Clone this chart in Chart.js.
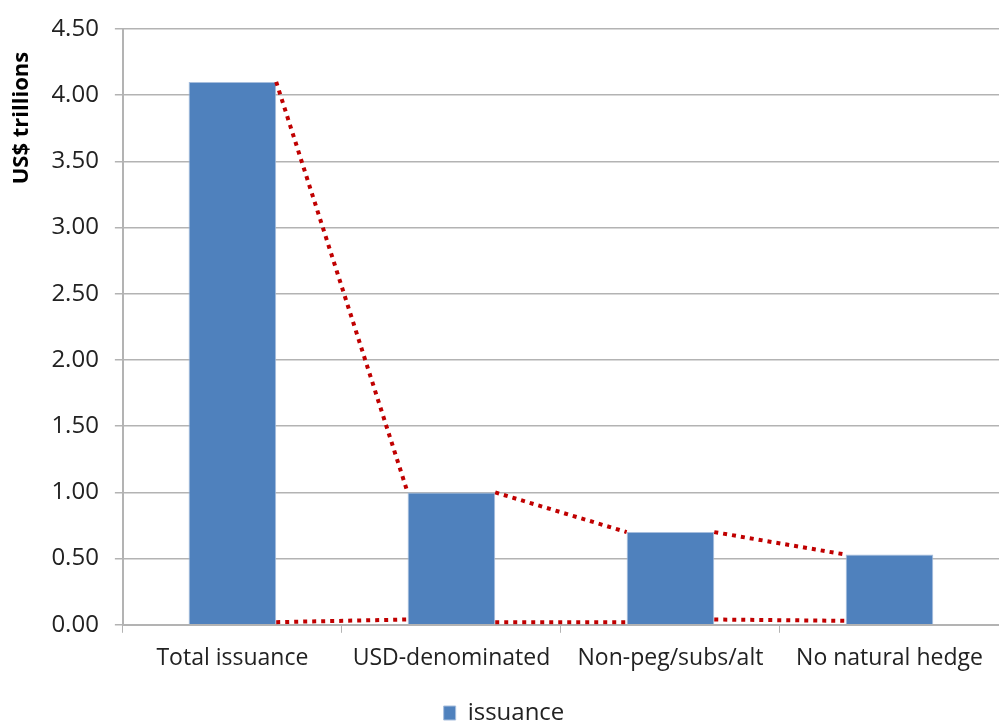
<!DOCTYPE html>
<html>
<head>
<meta charset="utf-8">
<script src="https://cdn.jsdelivr.net/npm/chart.js@4/dist/chart.umd.min.js"></script>
<style>
  body { margin: 0; background: #fff; overflow: hidden; }
  canvas { display: block; }
</style>
</head>
<body>
<!-- canvas a little taller than the window: the legend is cut at the bottom edge as in the original -->
<canvas id="myChart" width="999" height="735"></canvas>
<script>
const categories = ["Total issuance", "USD-denominated", "Non-peg/subs/alt", "No natural hedge"];
const issuance = [4.10, 1.00, 0.70, 0.53];
// connector lines between bars (x in category units, bar edges at +-0.2)
const topLinkX = [0.2, 0.8, null, 1.2, 1.8, null, 2.2, 2.8];
const topLinkY = [4.10, 1.00, null, 1.00, 0.70, null, 0.70, 0.53];
const baseLinkX = [0.2, 0.8, null, 1.2, 1.8, null, 2.2, 2.8];
const baseLinkY = [0.02, 0.04, null, 0.02, 0.02, null, 0.04, 0.03];
const yTicks = [0, 0.5, 1, 1.5, 2, 2.5, 3, 3.5, 4, 4.5];

const fontFamily = "'Open Sans', sans-serif";
const gridColor = "#b3b3b3";

function toPoints(xs, ys) {
    return xs.map((x, i) => x === null ? { x: NaN, y: null } : { x: x, y: ys[i] });
}

const linkStyle = {
    type: 'line',
    borderColor: '#C00000',
    borderWidth: 4,
    borderDash: [4, 5],
    borderCapStyle: 'butt',
    pointRadius: 0,
    fill: false,
    spanGaps: false,
    tension: 0
};

const ctx = document.getElementById('myChart').getContext('2d');
const myChart = new Chart(ctx, {
    type: 'bar',
    data: {
        datasets: [
            {
                type: 'bar',
                label: 'issuance',
                data: issuance.map((v, i) => ({ x: i, y: v })),
                backgroundColor: '#4F81BD',
                borderColor: '#A7BEDD',
                borderWidth: 1,
                grouped: false,
                barPercentage: 0.4,
                categoryPercentage: 1,
                order: 2
            },
            Object.assign({ label: 'top', data: toPoints(topLinkX, topLinkY), order: 1 }, linkStyle),
            Object.assign({ label: 'base', data: toPoints(baseLinkX, baseLinkY), order: 1 }, linkStyle)
        ]
    },
    options: {
        responsive: false,
        animation: false,
        layout: { padding: { top: 0, right: 0, left: 9, bottom: 0 } },
        plugins: {
            tooltip: { enabled: false },
            legend: {
                position: 'bottom',
                labels: {
                    font: { family: fontFamily, size: 24 },
                    color: '#222',
                    boxWidth: 12,
                    boxHeight: 14,
                    padding: 5,
                    filter: item => item.text === 'issuance'
                }
            }
        },
        scales: {
            x: {
                type: 'linear',
                min: -0.5,
                max: 3.5,
                offset: false,
                afterBuildTicks: axis => { axis.ticks = categories.map((c, i) => ({ value: i })); },
                grid: {
                    offset: true,
                    drawOnChartArea: false,
                    color: gridColor,
                    tickLength: 8
                },
                border: { color: gridColor, width: 2 },
                ticks: {
                    font: { family: fontFamily, size: 23 },
                    color: '#222',
                    maxRotation: 0,
                    autoSkip: false,
                    padding: 12,
                    callback: v => categories[v]
                },
                // empty title only keeps a gap above the legend
                title: {
                    display: true,
                    text: ' ',
                    font: { size: 8 },
                    padding: { top: 2, bottom: 0 }
                }
            },
            y: {
                min: 0,
                max: 4.5,
                afterBuildTicks: axis => { axis.ticks = yTicks.map(v => ({ value: v })); },
                grid: {
                    color: gridColor,
                    lineWidth: 1.5,
                    tickLength: 8
                },
                border: { color: gridColor, width: 2 },
                ticks: {
                    font: { family: fontFamily, size: 24, lineHeight: 1.08 },
                    color: '#222',
                    padding: 16,
                    callback: v => v.toFixed(2)
                },
                title: {
                    display: true,
                    text: 'US$ trillions    ',
                    align: 'end',
                    font: { family: fontFamily, size: 22, weight: 'bold' },
                    color: '#000',
                    padding: { top: 0, bottom: 0 }
                }
            }
        }
    }
});
</script>
</body>
</html>
